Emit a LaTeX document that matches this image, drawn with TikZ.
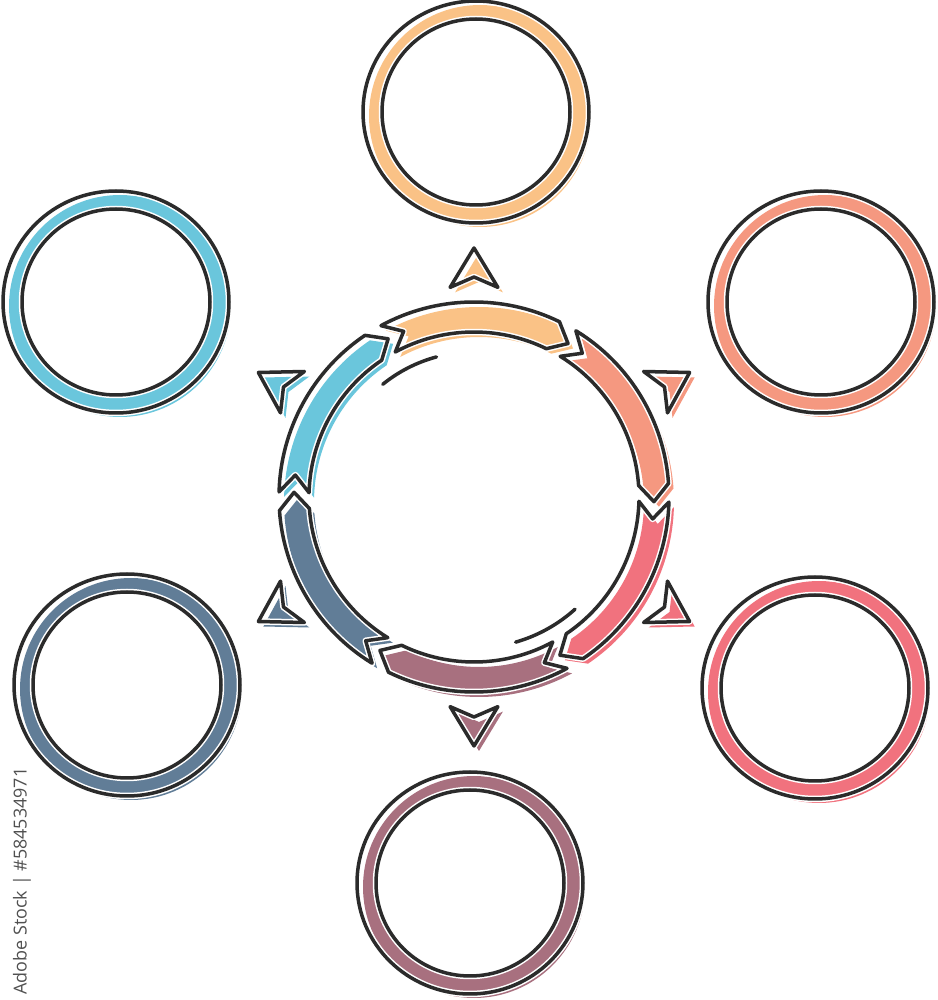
\documentclass[tikz,border=0pt]{standalone}
\usepackage[usenames,dvipsnames]{xcolor}
\usepackage{fontspec}
\newfontfamily\stockfont{Open Sans}
\usepackage{tikz}
\usetikzlibrary{calc}

\definecolor{ink}{RGB}{43,43,43}
\definecolor{cOrange}{RGB}{250,194,134}
\definecolor{cSalmon}{RGB}{245,152,128}
\definecolor{cRed}{RGB}{241,114,126}
\definecolor{cMauve}{RGB}{168,112,127}
\definecolor{cSlate}{RGB}{97,125,151}
\definecolor{cBlue}{RGB}{106,198,220}
\definecolor{stockgray}{RGB}{80,80,80}

\tikzset{
  inkline/.style={draw=ink, line width=0.35mm, line join=round, line cap=round},
  halo/.style={draw=white, line width=0.65mm, line join=round},
}

% one arrow piece of the middle wheel, from \angT (tail) to \angH (head)
\newcommand{\ringseg}[1]{\path[#1] (\angT:195) arc[start angle=\angT, end angle=\angH, radius=195]
  -- (\angP:180) -- (\angH:165) arc[start angle=\angH, end angle=\angT, radius=165] -- (\angN:180) -- cycle;}
% small notched pointer at angle #1
\newcommand{\tipmark}[2]{\path[#2] (#1:249) -- (#1+6.5:211) -- (#1:220) -- (#1-6.5:211) -- cycle;}

\begin{document}
\begin{tikzpicture}[x=0.1mm,y=0.1mm]
  \useasboundingbox (0,0) rectangle (938,1000);
  % outer rings
  \foreach \cx/\cy/\col in {476/888/cOrange, 821/698/cSalmon, 815/312/cRed,
                            470/117/cMauve, 127/315/cSlate, 116/698/cBlue}{
    \fill[\col, even odd rule] (\cx+4,\cy-4) circle[radius=111] (\cx,\cy) circle[radius=94];
    \draw[halo] (\cx,\cy) circle[x radius=113, y radius=111];
    \draw[halo] (\cx,\cy) circle[x radius=94, y radius=93];
    \draw[inkline] (\cx,\cy) circle[x radius=113, y radius=111];
    \draw[inkline] (\cx,\cy) circle[x radius=94, y radius=93];
  }
%%%%%%%%%%%%%%%%%%%%%%%%%%%%%%%%%%%%%%%%%%%%%%%%%%%%%%%%%%%%%%%%%%%%%%%
  \begin{scope}[shift={(474,503)}]
    % middle wheel
    \foreach \s/\col in {120/cOrange, 60/cSalmon, 0/cRed, -60/cMauve, -120/cSlate, 180/cBlue}{
      \pgfmathsetmacro\angT{\s-1.5}
      \pgfmathsetmacro\angN{\s-7}
      \pgfmathsetmacro\angH{\s-56}
      \pgfmathsetmacro\angP{\s-61.5}
      \ringseg{fill=\col, shift={(5,-5)}}
      \ringseg{halo}
      \ringseg{inkline}
    }
    % pointers
    \foreach \a/\col in {90/cOrange, 30/cSalmon, -30/cRed, -90/cMauve, -150/cSlate, 150/cBlue}{
      \tipmark{\a}{fill=\col, shift={(5,-5)}}
      \tipmark{\a}{halo}
      \tipmark{\a}{inkline}
    }
    % inner strokes
    \draw[inkline] (129:145) arc[start angle=129, end angle=105, radius=145];
    \draw[inkline] (-74:151) arc[start angle=-74, end angle=-48, radius=151];
  \end{scope}
  \node[rotate=90, text=stockgray, inner sep=0pt,
        font=\stockfont\fontsize{5.1}{6}\selectfont] (stock) at (22,119) {Adobe Stock | \#584534971};
\end{tikzpicture}
\end{document}
